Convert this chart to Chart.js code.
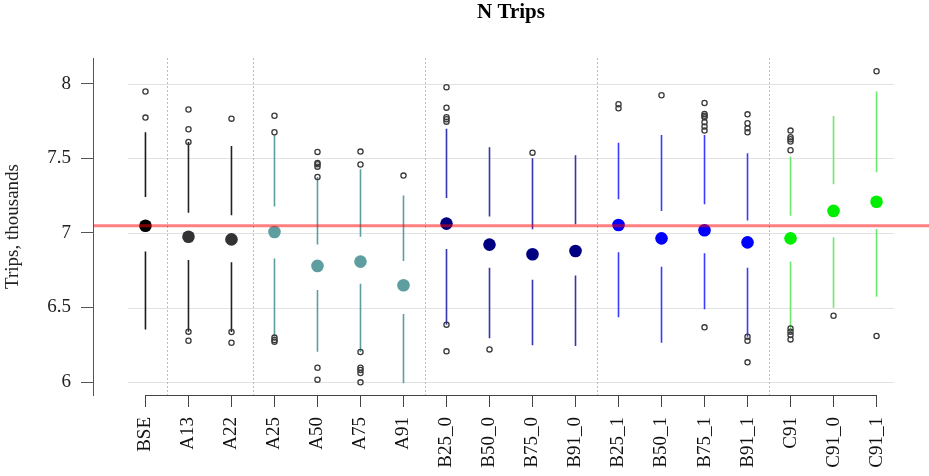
<!DOCTYPE html>
<html>
<head>
<meta charset="utf-8">
<title>N Trips</title>
<script src="https://cdn.jsdelivr.net/npm/chart.js@4.4.0/dist/chart.umd.min.js"></script>
<style>
    html, body { margin: 0; padding: 0; background: #fff; }
    canvas { display: block; }
</style>
</head>
<body>
<canvas id="n-trips" width="929" height="476"></canvas>
<script>
    "use strict";

    // Data
    var categories = ["BSE", "A13", "A22", "A25", "A50", "A75", "A91",
        "B25_0", "B50_0", "B75_0", "B91_0", "B25_1", "B50_1", "B75_1", "B91_1",
        "C91", "C91_0", "C91_1"];
    var whiskerLow = [6.353, 6.338, 6.336, 6.304, 6.204, 6.201, 5.991, 6.385, 6.293, 6.246, 6.242, 6.434, 6.264, 6.488, 6.304, 6.349, 6.499, 6.573];
    var lowerQuart = [6.875, 6.819, 6.803, 6.828, 6.617, 6.660, 6.456, 6.893, 6.767, 6.687, 6.714, 6.870, 6.774, 6.864, 6.767, 6.808, 6.971, 7.027];
    var medians    = [7.049, 6.975, 6.957, 7.007, 6.779, 6.808, 6.649, 7.063, 6.922, 6.857, 6.879, 7.054, 6.964, 7.018, 6.937, 6.964, 7.148, 7.210];
    var upperQuart = [7.242, 7.136, 7.119, 7.177, 6.922, 6.975, 6.812, 7.235, 7.110, 7.025, 7.058, 7.226, 7.148, 7.192, 7.083, 7.116, 7.327, 7.407];
    var whiskerHigh = [7.676, 7.611, 7.584, 7.658, 7.376, 7.427, 7.251, 7.700, 7.575, 7.501, 7.521, 7.606, 7.658, 7.658, 7.535, 7.512, 7.785, 7.949];
    var outliers = [
        [7.949, 7.774],
        [7.828, 7.696, 7.611, 6.338, 6.277],
        [7.767, 6.336, 6.264],
        [7.787, 7.676, 6.298, 6.282, 6.271],
        [7.544, 7.470, 7.461, 7.445, 7.376, 6.096, 6.016],
        [7.546, 7.459, 6.201, 6.096, 6.081, 6.060, 5.998],
        [7.385],
        [7.978, 7.841, 7.776, 7.763, 7.747, 6.385, 6.206],
        [6.219],
        [7.539],
        [],
        [7.864, 7.837],
        [7.924],
        [7.872, 7.799, 7.787, 7.776, 7.743, 7.714, 7.687, 6.367],
        [7.796, 7.736, 7.702, 7.676, 6.304, 6.277, 6.132],
        [7.687, 7.642, 7.629, 7.613, 7.555, 6.360, 6.338, 6.315, 6.286],
        [6.445],
        [8.085, 6.309]
    ];
    var baseline = 7.049;
    var yTicks = [6, 6.5, 7, 7.5, 8];
    var groupBreaks = [0.5, 2.5, 6.5, 10.5, 14.5];

    // Colours per category
    var dotColors = ["#000000", "#333333", "#333333",
        "#5f9ea0", "#5f9ea0", "#5f9ea0", "#5f9ea0",
        "#000080", "#000080", "#000080", "#000080",
        "#0000ff", "#0000ff", "#0000ff", "#0000ff",
        "#00ee00", "#00ee00", "#00ee00"];
    var lineColors = ["#1a1a1a", "#222222", "#222222",
        "#5f9ea0", "#5f9ea0", "#5f9ea0", "#5f9ea0",
        "#3535b0", "#3535b0", "#3535b0", "#3535b0",
        "#3b3bff", "#3b3bff", "#3b3bff", "#3b3bff",
        "#6ee86e", "#6ee86e", "#6ee86e"];

    var xMin = -1.22, xMax = 18.22;
    var yMin = 5.913, yMax = 8.174;


    // Datasets
    var datasets = [];

    datasets.push({
        label: "baseline",
        data: [{x: xMin, y: baseline}, {x: xMax, y: baseline}],
        showLine: true,
        borderColor: "rgba(255, 0, 0, 0.5)",
        borderWidth: 3,
        pointRadius: 0,
        order: 0
    });

    datasets.push({
        label: "median",
        data: medians.map(function (v, i) { return {x: i, y: v}; }),
        pointRadius: 6.3,
        pointBackgroundColor: dotColors,
        pointBorderWidth: 0,
        order: 1
    });

    var outlierPoints = [];
    outliers.forEach(function (list, i) {
        list.forEach(function (v) { outlierPoints.push({x: i, y: v}); });
    });
    datasets.push({
        label: "outliers",
        data: outlierPoints,
        pointRadius: 2.6,
        pointBackgroundColor: "rgba(0,0,0,0)",
        pointBorderColor: "#3a3a3a",
        pointBorderWidth: 1.3,
        order: 2
    });

    categories.forEach(function (c, i) {
        datasets.push({
            label: c,
            data: [
                {x: i, y: whiskerLow[i]}, {x: i, y: lowerQuart[i]},
                {x: i, y: null},
                {x: i, y: upperQuart[i]}, {x: i, y: whiskerHigh[i]}
            ],
            showLine: true,
            spanGaps: false,
            borderColor: lineColors[i],
            borderWidth: 1.6,
            pointRadius: 0,
            order: 3
        });
    });


    // Grid, separators, x axis line and title
    var decorations = {
        id: "decorations",
        afterLayout: function (chart) {
            // stretch the plot region to the right edge, like R does
            var x = chart.scales.x, a = chart.chartArea, r = chart.width;
            if (a.right < r) {
                a.right = r;
                a.width = r - a.left;
                x.right = r;
                x.width = r - x.left;
                x.configure();
            }
        },
        beforeDatasetsDraw: function (chart) {
            var ctx = chart.ctx, x = chart.scales.x, y = chart.scales.y, a = chart.chartArea;
            ctx.save();
            ctx.strokeStyle = "#e2e2e2";
            ctx.lineWidth = 1;
            yTicks.forEach(function (v) {
                var py = Math.round(y.getPixelForValue(v)) + 0.5;
                ctx.beginPath();
                ctx.moveTo(x.getPixelForValue(-0.4), py);
                ctx.lineTo(x.getPixelForValue(17.4), py);
                ctx.stroke();
            });
            ctx.strokeStyle = "#bdbdbd";
            ctx.setLineDash([2, 2]);
            groupBreaks.forEach(function (v) {
                var px = Math.round(x.getPixelForValue(v)) + 0.5;
                ctx.beginPath();
                ctx.moveTo(px, a.top);
                ctx.lineTo(px, a.bottom);
                ctx.stroke();
            });
            ctx.restore();
        },
        afterDraw: function (chart) {
            var ctx = chart.ctx, x = chart.scales.x, a = chart.chartArea;
            ctx.save();
            ctx.strokeStyle = "#444";
            ctx.lineWidth = 1;
            ctx.beginPath();
            ctx.moveTo(x.getPixelForValue(0), a.bottom + 0.5);
            ctx.lineTo(x.getPixelForValue(categories.length - 1), a.bottom + 0.5);
            ctx.stroke();
            ctx.fillStyle = "#000";
            ctx.font = "bold 21px 'Liberation Serif', serif";
            ctx.textAlign = "center";
            ctx.textBaseline = "alphabetic";
            ctx.fillText("N Trips", (a.left + a.right) / 2, 18);
            ctx.restore();
        }
    };


    Chart.defaults.font.family = "'Liberation Serif', serif";
    Chart.defaults.font.size = 19;
    Chart.defaults.color = "#222";

    var ctx1 = document.getElementById("n-trips").getContext("2d");
    var myChart1 = new Chart(ctx1, {
        type: "scatter",
        data: { datasets: datasets },
        options: {
            responsive: false,
            animation: false,
            devicePixelRatio: 1,
            layout: { padding: { top: 58, right: 0, bottom: 0, left: 0 } },
            plugins: {
                legend: { display: false },
                tooltip: { enabled: false }
            },
            scales: {
                x: {
                    type: "linear",
                    min: xMin,
                    max: xMax,
                    border: { display: false },
                    grid: { drawOnChartArea: false, drawTicks: true, tickLength: 12, color: "#444" },
                    ticks: {
                        autoSkip: false,
                        minRotation: 90,
                        maxRotation: 90,
                        padding: 10,
                        color: "#111",
                        callback: function (value) { return categories[value]; }
                    },
                    afterBuildTicks: function (scale) {
                        scale.ticks = categories.map(function (c, i) { return {value: i}; });
                    },
                    afterFit: function (scale) {
                        scale.height = 81;
                        scale.paddingLeft = 0;
                        scale.paddingRight = 0;
                    }
                },
                y: {
                    type: "linear",
                    min: yMin,
                    max: yMax,
                    border: { display: true, color: "#555" },
                    grid: { drawOnChartArea: false, drawTicks: true, tickLength: 12, color: "#555" },
                    ticks: {
                        padding: 10,
                        color: "#222",
                        callback: function (value) { return String(value); }
                    },
                    afterBuildTicks: function (scale) {
                        scale.ticks = yTicks.map(function (v) { return {value: v}; });
                    },
                    afterFit: function (scale) {
                        scale.width = 93;
                        scale.paddingLeft = 0;
                        scale.paddingRight = 0;
                    },
                    title: {
                        display: true,
                        text: "Trips, thousands",
                        color: "#222",
                        padding: { top: 2, bottom: 0 }
                    }
                }
            }
        },
        plugins: [decorations]
    });
</script>
</body>
</html>
